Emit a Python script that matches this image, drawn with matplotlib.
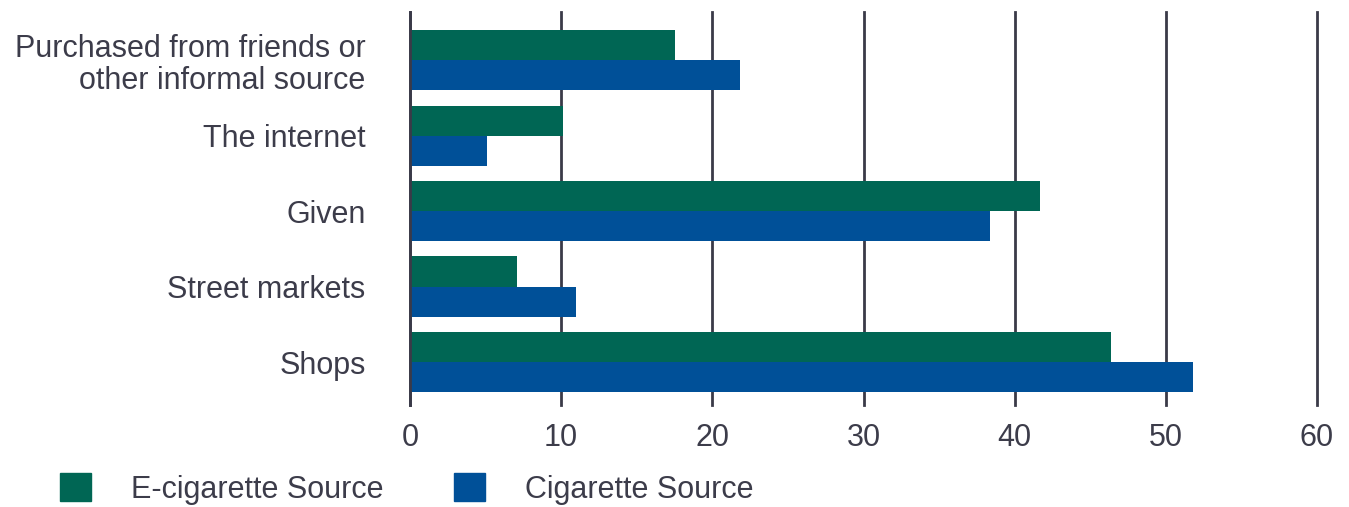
import matplotlib.pyplot as plt
from matplotlib.patches import Patch
import numpy as np

plt.rcParams['font.family'] = ['Liberation Sans', 'DejaVu Sans']

# 데이터 (위에서 아래 순서)
categories = ['Purchased from friends or\nother informal source', 'The internet', 'Given',
              'Street markets', 'Shops']
ecig = [17.5, 10.1, 41.7, 7.1, 46.4]
cig = [21.8, 5.1, 38.4, 11.0, 51.8]
xticks = [0, 10, 20, 30, 40, 50, 60]

green = '#006654'
blue = '#005098'
text_color = '#3c3c4a'
grid_color = '#3a3a48'

fig = plt.figure(figsize=(13.49, 5.07), dpi=100)
ax = fig.add_axes([410 / 1349, 1 - 405 / 507, (1317 - 410) / 1349, (405 - 12) / 507])

y = np.arange(len(categories))[::-1]  # 맨 위가 첫 항목
h = 0.40
ax.barh(y + h / 2, ecig, height=h, color=green, zorder=3)
ax.barh(y - h / 2, cig, height=h, color=blue, zorder=3)

ax.set_xlim(0, 60)
ax.set_ylim(-0.57, 4.64)
ax.set_xticks(xticks)
ax.set_yticks(y)
ax.set_yticklabels(categories, fontsize=22, color=text_color, linespacing=1.08)
ax.tick_params(axis='x', length=0, pad=13, labelsize=22, labelcolor=text_color)
ax.tick_params(axis='y', length=0, pad=32)

# 세로 그리드
ax.grid(True, axis='x', color=grid_color, linewidth=2, zorder=1)
ax.grid(False, axis='y')
for line in ax.get_xgridlines():
    line.set_clip_on(False)
for s in ax.spines.values():
    s.set_visible(False)
ax.axvline(0, color=grid_color, linewidth=2, zorder=4, clip_on=False)

handles = [Patch(color=green, label='E-cigarette Source'),
           Patch(color=blue, label='Cigarette Source')]
leg = fig.legend(handles=handles, loc='center left', bbox_to_anchor=(60 / 1349, 1 - 489 / 507),
                 ncol=2, frameon=False, fontsize=22, handlelength=1.0, handleheight=1.0,
                 handletextpad=1.31, columnspacing=2.32, borderpad=0, borderaxespad=0)
for t in leg.get_texts():
    t.set_color(text_color)

fig.savefig('out.png', dpi=100)
